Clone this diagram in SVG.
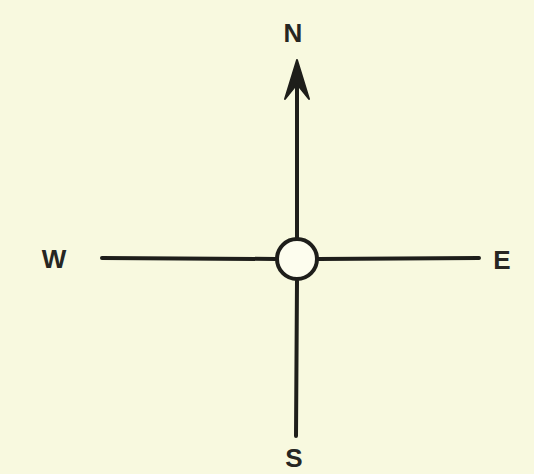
<svg xmlns="http://www.w3.org/2000/svg" width="534" height="474" viewBox="0 0 534 474">
<style>
.ln{stroke:#1e1e1a;stroke-width:4;fill:none;stroke-linecap:round}
.lbl{font-family:"Liberation Sans",Arial,sans-serif;font-size:26px;font-weight:bold;fill:#262622;text-anchor:middle}
</style>
<rect width="534" height="474" fill="#f8f9df"/>
<g id="connectors">
<line class="ln" x1="297" y1="238" x2="297" y2="66"/>
<path d="M297 60 L285 99 L297 84 L309 99 Z" fill="#1e1e1a" stroke="#1e1e1a" stroke-width="2" stroke-linejoin="round"/>
<line class="ln" x1="297" y1="281" x2="296" y2="436"/>
<line class="ln" x1="102" y1="258" x2="276" y2="259"/>
<line class="ln" x1="318" y1="259" x2="479" y2="258"/>
</g>
<g id="center"><circle cx="297" cy="259" r="20" fill="#fdfdee" stroke="#1e1e1a" stroke-width="4"/></g>
<g id="N"><text class="lbl" x="293" y="42">N</text></g>
<g id="W"><text class="lbl" x="54" y="268">W</text></g>
<g id="E"><text class="lbl" x="502" y="269">E</text></g>
<g id="S"><text class="lbl" x="294" y="467">S</text></g>
</svg>
